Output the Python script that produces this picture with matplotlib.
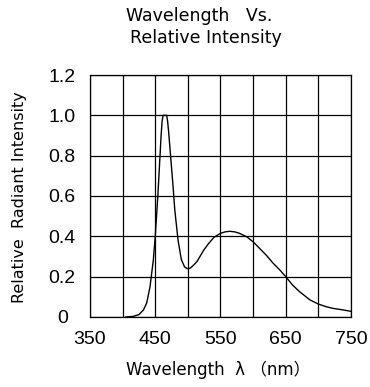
import matplotlib
matplotlib.use('Agg')
from matplotlib import pyplot as plt

# valores
wavelength = [405, 416, 425, 432, 437, 442, 447, 450, 454, 457, 459, 460.5, 462, 467.5, 469, 470.5,
              472, 474, 477, 480, 485, 490, 495, 500, 504, 509, 514, 524, 532, 540, 550,
              557, 564, 572, 579, 590, 600, 610, 620, 630, 641, 650, 660, 671, 687, 700,
              712, 722, 738, 750]
intensity = [0.0, 0.003, 0.012, 0.035, 0.07, 0.15, 0.28, 0.40, 0.60, 0.78, 0.90, 0.97, 1.0, 1.0, 0.97, 0.92,
             0.86, 0.78, 0.66, 0.53, 0.38, 0.285, 0.248, 0.238, 0.243, 0.258, 0.275, 0.33, 0.365, 0.395, 0.415,
             0.422, 0.425, 0.422, 0.415, 0.398, 0.373, 0.34, 0.307, 0.269, 0.233, 0.2, 0.16, 0.126, 0.085, 0.064,
             0.051, 0.043, 0.035, 0.028]
x_ticks = [350, 450, 550, 650, 750]
x_grid = [350, 400, 450, 500, 550, 600, 650, 700, 750]
y_ticks = [0, 0.2, 0.4, 0.6, 0.8, 1.0, 1.2]
y_labels = ['0', '0.2', '0.4', '0.6', '0.8', '1.0', '1.2']

plt.rcParams['font.family'] = ['Liberation Sans', 'Noto Sans CJK KR', 'DejaVu Sans']

fig = plt.figure(figsize=(3.70, 3.87), dpi=100)
ax = fig.add_axes([0.2432, 0.1809, 0.7054, 0.6253])

ax.plot(wavelength, intensity, color='black', lw=1.0)

ax.set_xlim(350, 750)
ax.set_ylim(0, 1.2)
for xv in x_grid:
	ax.axvline(xv, color='black', lw=0.9, zorder=0)
for yv in y_ticks:
	ax.axhline(yv, color='black', lw=0.9, zorder=0)

ax.set_xticks(x_ticks)
ax.set_xticklabels([str(v) for v in x_ticks], fontsize=14)
ax.set_yticks(y_ticks)
ax.set_yticklabels(y_labels, fontsize=14)
ax.tick_params(axis='both', length=0)
ax.tick_params(axis='x', pad=10)
ax.tick_params(axis='y', pad=20)
for lbl in ax.get_yticklabels():
	lbl.set_horizontalalignment('center')
for s in ax.spines.values():
	s.set_linewidth(0.9)

txt = dict(ha='center', va='center', family=['DejaVu Sans', 'Noto Sans CJK KR'])
fig.text(199/370, 1 - 16/387, 'Wavelength   Vs.', fontsize=12.5, **txt)
fig.text(206/370, 1 - 38/387, 'Relative Intensity', fontsize=12.5, **txt)
fig.text(20/370, 1 - 197/387, 'Relative  Radiant Intensity', rotation=90, fontsize=11.5, **txt)
fig.text(218/370, 1 - 370/387, 'Wavelength  λ （nm）', fontsize=12, **txt)

fig.savefig('out.png', dpi=100)
